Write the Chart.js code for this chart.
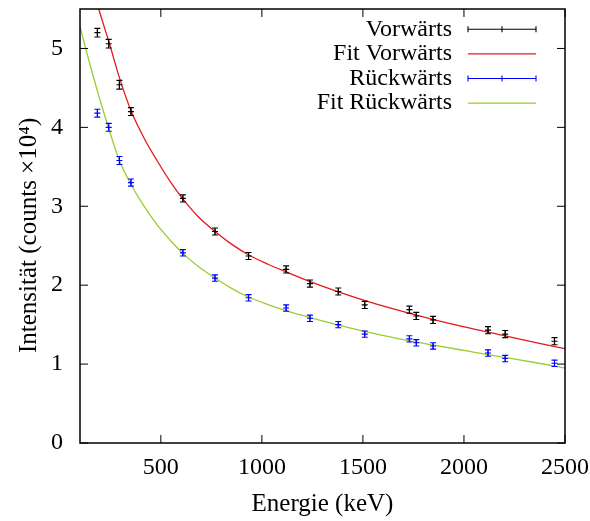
<!DOCTYPE html>
<html><head><meta charset="utf-8">
<script src="https://cdn.jsdelivr.net/npm/chart.js@4/dist/chart.umd.min.js"></script>
<style>html,body{margin:0;padding:0;background:#fff}#wrap{width:590px;height:521px}</style>
</head><body><div id="wrap"><canvas id="c" width="590" height="521"></canvas></div>
<script>
// ---- data ----
const energies = [186, 242, 295, 352, 609, 768, 934, 1120, 1238, 1378, 1509, 1730, 1764, 1847, 2119, 2204, 2448];
const forwardValues = [5.20, 5.06, 4.54, 4.20, 3.10, 2.68, 2.37, 2.20, 2.02, 1.92, 1.75, 1.69, 1.61, 1.56, 1.43, 1.38, 1.29];
const forwardErrors = [0.055, 0.055, 0.055, 0.05, 0.045, 0.045, 0.045, 0.045, 0.045, 0.045, 0.045, 0.045, 0.045, 0.045, 0.045, 0.045, 0.045];
const backwardValues = [4.18, 4.00, 3.58, 3.30, 2.41, 2.09, 1.84, 1.71, 1.58, 1.50, 1.38, 1.32, 1.27, 1.23, 1.14, 1.07, 1.01];
const backwardErrors = [0.05, 0.05, 0.05, 0.045, 0.04, 0.04, 0.04, 0.04, 0.04, 0.04, 0.04, 0.04, 0.04, 0.04, 0.04, 0.04, 0.04];
const fitForwardEnergies = [180, 194, 247, 295, 354, 420, 481, 550, 610, 684, 768, 850, 933, 1030, 1123, 1239, 1379, 1535, 1700, 1850, 2030, 2200, 2350, 2500];
const fitForwardValues = [5.62, 5.49, 5.05, 4.63, 4.20, 3.85, 3.58, 3.30, 3.09, 2.87, 2.68, 2.52, 2.385, 2.265, 2.165, 2.045, 1.915, 1.785, 1.665, 1.565, 1.455, 1.36, 1.275, 1.195];
const fitBackwardEnergies = [100, 150, 200, 244, 295, 354, 412, 480, 550, 610, 684, 768, 850, 933, 1030, 1123, 1239, 1379, 1535, 1700, 1850, 2030, 2200, 2350, 2500];
const fitBackwardValues = [5.28, 4.79, 4.34, 3.97, 3.58, 3.27, 3.02, 2.77, 2.56, 2.40, 2.24, 2.09, 1.96, 1.85, 1.755, 1.675, 1.59, 1.495, 1.40, 1.31, 1.24, 1.16, 1.085, 1.02, 0.95];
const xTickValues = [500, 1000, 1500, 2000, 2500];
const yTickValues = [0, 1, 2, 3, 4, 5];
const seriesLabels = ['Vorwärts', 'Fit Vorwärts', 'Rückwärts', 'Fit Rückwärts'];
const xTitle = 'Energie (keV)';
const yTitle = 'Intensität (counts ×10⁴)   ';

const FAMILY = '"Liberation Serif", "Times New Roman", serif';
const FONT = {family: FAMILY, size: 24, lineHeight: 1.2};
const TITLE_FONT = {family: FAMILY, size: 25, lineHeight: 1.2};
const pts = (xs, ys) => xs.map((x, i) => ({x: x, y: ys[i]}));
const noScalePadding = s => { s.paddingTop = 0; s.paddingBottom = 0; s.paddingLeft = 0; s.paddingRight = 0; };

const errorBarPlugin = {
  id: 'errorBars',
  afterDatasetsDraw(chart) {
    const {ctx, chartArea: a, scales: {x: xs, y: ys}} = chart;
    ctx.save();
    ctx.beginPath(); ctx.rect(a.left, a.top, a.right - a.left, a.bottom - a.top); ctx.clip();
    chart.data.datasets.forEach((ds) => {
      if (!ds.errors) return;
      ctx.strokeStyle = ds.borderColor; ctx.lineWidth = 1.1;
      ds.data.forEach((p, j) => {
        const x = xs.getPixelForValue(p.x);
        const y1 = ys.getPixelForValue(p.y - ds.errors[j]);
        const y2 = ys.getPixelForValue(p.y + ds.errors[j]);
        ctx.beginPath();
        ctx.moveTo(x, y1); ctx.lineTo(x, y2);
        ctx.moveTo(x - 3, y1); ctx.lineTo(x + 3, y1);
        ctx.moveTo(x - 3, y2); ctx.lineTo(x + 3, y2);
        ctx.stroke();
      });
    });
    ctx.restore();
  }
};

const framePlugin = {
  id: 'frame',
  afterDraw(chart) {
    const {ctx, chartArea: a, scales: {x: xs, y: ys}} = chart;
    ctx.save();
    ctx.strokeStyle = '#000';
    ctx.lineWidth = 1;
    ctx.beginPath();
    xs.ticks.forEach(t => {
      const px = xs.getPixelForValue(t.value);
      ctx.moveTo(px, a.bottom); ctx.lineTo(px, a.bottom - 8);
      ctx.moveTo(px, a.top); ctx.lineTo(px, a.top + 8);
    });
    ys.ticks.forEach(t => {
      const py = ys.getPixelForValue(t.value);
      ctx.moveTo(a.left, py); ctx.lineTo(a.left + 8, py);
      ctx.moveTo(a.right, py); ctx.lineTo(a.right - 8, py);
    });
    ctx.stroke();
    ctx.lineWidth = 1.5;
    ctx.strokeRect(a.left, a.top, a.right - a.left, a.bottom - a.top);
    ctx.restore();
  }
};

const legendPlugin = {
  id: 'gnuLegend',
  afterDraw(chart) {
    const ctx = chart.ctx;
    ctx.save();
    ctx.font = FONT.size + 'px ' + FONT.family;
    ctx.textAlign = 'right';
    ctx.textBaseline = 'middle';
    const textRight = 452, x0 = 468, x1 = 536, y0 = 29.3, dy = 24.6;
    chart.data.datasets.forEach((ds, i) => {
      const y = y0 + i * dy;
      ctx.fillStyle = '#000';
      ctx.fillText(ds.label, textRight, y);
      ctx.strokeStyle = ds.borderColor;
      ctx.lineWidth = ds.errors ? 1.1 : 1.3;
      ctx.beginPath();
      ctx.moveTo(x0, y); ctx.lineTo(x1, y);
      if (ds.errors) {
        ctx.moveTo(x0, y - 3); ctx.lineTo(x0, y + 3);
        ctx.moveTo(x1, y - 3); ctx.lineTo(x1, y + 3);
        ctx.moveTo((x0 + x1) / 2, y - 3); ctx.lineTo((x0 + x1) / 2, y + 3);
      }
      ctx.stroke();
    });
    ctx.restore();
  }
};

new Chart(document.getElementById('c'), {
  type: 'scatter',
  data: {
    datasets: [
      {label: seriesLabels[0], data: pts(energies, forwardValues), errors: forwardErrors,
       borderColor: '#000000', backgroundColor: '#000000', pointStyle: 'cross', pointRadius: 3, borderWidth: 1.1, showLine: false},
      {label: seriesLabels[1], data: pts(fitForwardEnergies, fitForwardValues), type: 'line',
       borderColor: '#e31a1c', borderWidth: 1.3, pointRadius: 0, fill: false, cubicInterpolationMode: 'monotone'},
      {label: seriesLabels[2], data: pts(energies, backwardValues), errors: backwardErrors,
       borderColor: '#0000ff', backgroundColor: '#0000ff', pointStyle: 'cross', pointRadius: 3, borderWidth: 1.1, showLine: false},
      {label: seriesLabels[3], data: pts(fitBackwardEnergies, fitBackwardValues), type: 'line',
       borderColor: '#9acd32', borderWidth: 1.3, pointRadius: 0, fill: false, cubicInterpolationMode: 'monotone'}
    ]
  },
  options: {
    responsive: false,
    animation: false,
    devicePixelRatio: 1,
    layout: {padding: {top: 9, right: 25, left: 0, bottom: 0}},
    plugins: {legend: {display: false}, tooltip: {enabled: false}},
    scales: {
      x: {
        type: 'linear', min: 100, max: 2500,
        afterBuildTicks: s => { s.ticks = xTickValues.map(v => ({value: v})); },
        afterFit: s => { s.height = 78; noScalePadding(s); },
        grid: {display: false, drawTicks: false},
        border: {display: false},
        ticks: {font: FONT, color: '#000', padding: 10, maxRotation: 0, autoSkip: false, callback: v => String(v)},
        title: {display: true, text: xTitle, font: TITLE_FONT, color: '#000', padding: {top: 0, bottom: 2}}
      },
      y: {
        type: 'linear', min: 0, max: 5.5,
        afterBuildTicks: s => { s.ticks = yTickValues.map(v => ({value: v})); },
        afterFit: s => { s.width = 80; noScalePadding(s); },
        grid: {display: false, drawTicks: false},
        border: {display: false},
        ticks: {font: FONT, color: '#000', padding: 17, autoSkip: false, callback: v => String(v)},
        title: {display: true, text: yTitle, font: TITLE_FONT, color: '#000', padding: {top: 14, bottom: 0}}
      }
    }
  },
  plugins: [errorBarPlugin, framePlugin, legendPlugin]
});
</script>
</body></html>
